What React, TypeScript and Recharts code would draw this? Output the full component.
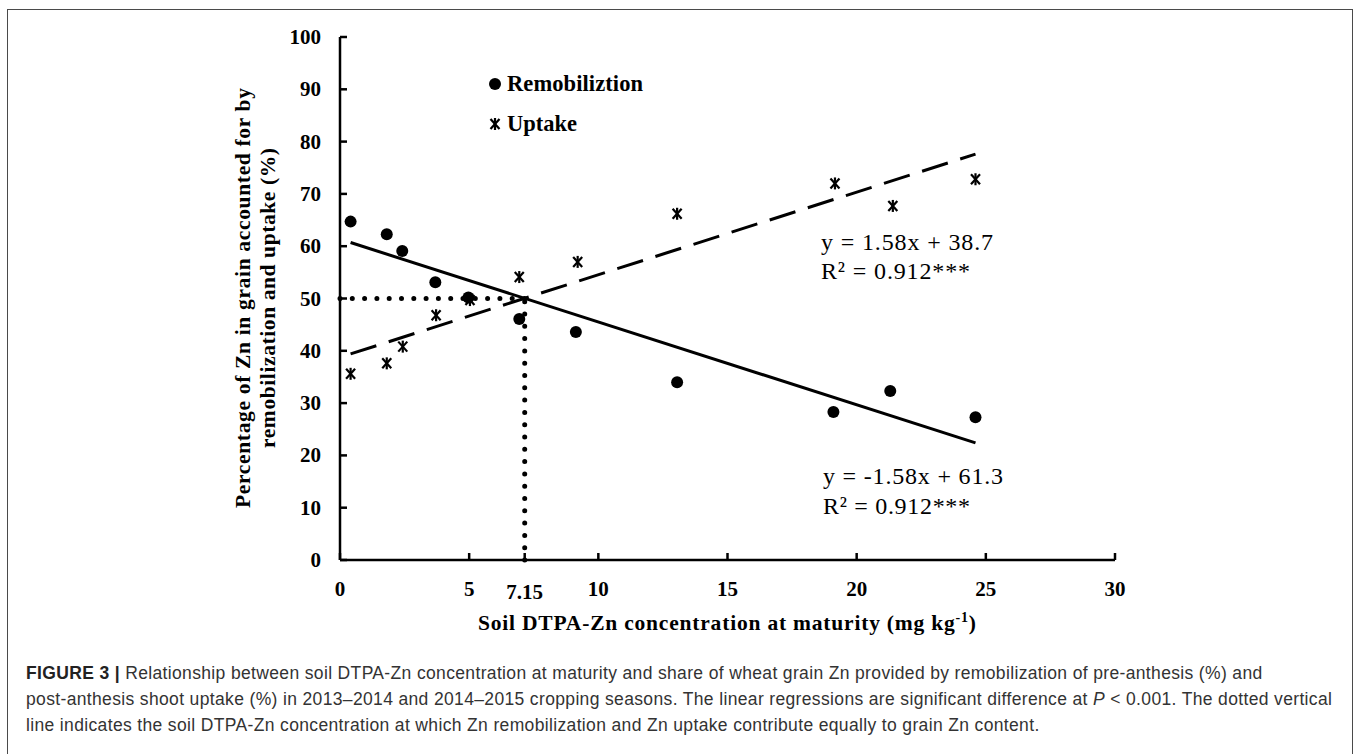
import React from "react";
import { ScatterChart, Scatter, XAxis, YAxis, ReferenceLine, Customized } from "recharts";

// soil DTPA-Zn (mg/kg) and share of grain Zn (%)
const remobX = [0.41, 1.81, 2.41, 3.69, 4.97, 6.94, 9.13, 13.05, 19.1, 21.3, 24.6];
const remobY = [64.7, 62.3, 59.1, 53.1, 50.2, 46.1, 43.6, 34.0, 28.3, 32.3, 27.3];
const uptakeX = [0.41, 1.81, 2.43, 3.72, 5.03, 6.94, 9.2, 13.05, 19.16, 21.4, 24.6];
const uptakeY = [35.6, 37.6, 40.8, 46.8, 49.7, 54.1, 57.0, 66.2, 72.0, 67.7, 72.8];

// regression line ends
const remobFitX = [0.41, 24.6];
const remobFitY = [60.7, 22.4];
const uptakeFitX = [0.41, 24.6];
const uptakeFitY = [39.4, 77.6];

// point where both contribute equally
const crossX = 7.15;
const crossY = 50;

const xTicks = [0, 5, 7.15, 10, 15, 20, 25, 30];
const yTicks = [0, 10, 20, 30, 40, 50, 60, 70, 80, 90, 100];

const remobData = remobX.map((x, i) => ({ x, y: remobY[i] }));
const uptakeData = uptakeX.map((x, i) => ({ x, y: uptakeY[i] }));

const serif = "'Liberation Serif', 'Times New Roman', serif";

const Dot = (p: any) => <circle cx={p.cx} cy={p.cy} r={6} fill="#000" />;

const Star = (p: any) => {
  const { cx, cy } = p;
  return (
    <g stroke="#000" strokeWidth={2.2}>
      <line x1={cx} y1={cy - 6} x2={cx} y2={cy + 6} />
      <line x1={cx - 4.5} y1={cy - 5} x2={cx + 4.5} y2={cy + 5} />
      <line x1={cx + 4.5} y1={cy - 5} x2={cx - 4.5} y2={cy + 5} />
    </g>
  );
};

const XTick = (p: any) => {
  const v = p.payload.value;
  return (
    <text x={p.x} y={p.y} dy={v === 7.15 ? 38.5 : 36} textAnchor="middle"
      fontFamily={serif} fontWeight="bold" fontSize={21} fill="#000">
      {v}
    </text>
  );
};

const YTick = (p: any) => (
  <text x={p.x - 19} y={p.y} dy={7} textAnchor="end"
    fontFamily={serif} fontWeight="bold" fontSize={21} fill="#000">
    {p.payload.value}
  </text>
);

const Overlay = () => (
  <g fontFamily={serif} fill="#000">
    {/* legend */}
    <Dot cx={495} cy={84} />
    <text x={507} y={91} fontSize={22.5} fontWeight="bold" textLength={136} lengthAdjust="spacing">Remobiliztion</text>
    <Star cx={495} cy={124} />
    <text x={507} y={131} fontSize={22.5} fontWeight="bold">Uptake</text>

    {/* equations */}
    <text x={821} y={250} fontSize={24} textLength={172} lengthAdjust="spacing">y = 1.58x + 38.7</text>
    <text x={821} y={279} fontSize={24} textLength={149} lengthAdjust="spacing">R² = 0.912***</text>
    <text x={823} y={484} fontSize={24} textLength={180} lengthAdjust="spacing">y = -1.58x + 61.3</text>
    <text x={823} y={514} fontSize={24} textLength={147} lengthAdjust="spacing">R² = 0.912***</text>

    {/* axis titles */}
    <text x={478} y={630} fontSize={21.5} fontWeight="bold" textLength={498} lengthAdjust="spacing">
      Soil DTPA-Zn concentration at maturity (mg kg
      <tspan fontSize={14} dy={-8}>-1</tspan>
      <tspan dy={8}>)</tspan>
    </text>
    <g transform="translate(250,508) rotate(-90)">
      <text x={0} y={0} fontSize={21.5} fontWeight="bold" textLength={420} lengthAdjust="spacing">
        Percentage of Zn in grain accounted for by
      </text>
    </g>
    <g transform="translate(275,448) rotate(-90)">
      <text x={0} y={0} fontSize={21.5} fontWeight="bold" textLength={300} lengthAdjust="spacing">
        remobilization and uptake (%)
      </text>
    </g>
  </g>
);

export default function App() {
  return (
    <div style={{ position: "absolute", left: 0, top: 0, width: 1358, height: 754, overflow: "hidden", background: "#fff" }}>
      <div style={{ position: "absolute", left: 7, top: 9, width: 1346, height: 800, border: "1.5px solid #4a4a4a", boxSizing: "border-box" }} />
      <div style={{ position: "absolute", left: 0, top: 0 }}>
        <ScatterChart width={1358} height={660} margin={{ top: 37, right: 243, bottom: 40, left: 280 }}>
          <XAxis type="number" dataKey="x" domain={[0, 30]} ticks={xTicks} interval={0}
            tick={<XTick />} tickSize={-7} tickMargin={7}
            axisLine={{ stroke: "#000", strokeWidth: 2.5 }} tickLine={{ stroke: "#000", strokeWidth: 2.5 }}
            height={60} />
          <YAxis type="number" dataKey="y" domain={[0, 100]} ticks={yTicks} interval={0}
            tick={<YTick />} tickSize={-7} tickMargin={7}
            axisLine={{ stroke: "#000", strokeWidth: 2.5 }} tickLine={{ stroke: "#000", strokeWidth: 2.5 }}
            width={60} />
          <ReferenceLine segment={[{ x: 0, y: crossY }, { x: crossX, y: crossY }]}
            stroke="#000" strokeWidth={5} strokeDasharray="0 12.3" strokeLinecap="round" />
          <ReferenceLine segment={[{ x: crossX, y: 0 }, { x: crossX, y: crossY }]}
            stroke="#000" strokeWidth={5} strokeDasharray="0 12.3" strokeLinecap="round" />
          <ReferenceLine segment={[{ x: remobFitX[0], y: remobFitY[0] }, { x: remobFitX[1], y: remobFitY[1] }]}
            stroke="#000" strokeWidth={3} />
          <ReferenceLine segment={[{ x: uptakeFitX[0], y: uptakeFitY[0] }, { x: uptakeFitX[1], y: uptakeFitY[1] }]}
            stroke="#000" strokeWidth={3} strokeDasharray="27 13" />
          <Scatter data={remobData} shape={Dot} isAnimationActive={false} />
          <Scatter data={uptakeData} shape={Star} isAnimationActive={false} />
          <Customized component={Overlay} />
        </ScatterChart>
      </div>
      <div style={{ position: "absolute", left: 26, top: 660, fontFamily: "'Liberation Sans', Arial, sans-serif", fontSize: 17.5, letterSpacing: "0.35px", lineHeight: "26px", color: "#333", whiteSpace: "nowrap" }}>
        <div><b style={{ color: "#222" }}>FIGURE 3 |</b> Relationship between soil DTPA-Zn concentration at maturity and share of wheat grain Zn provided by remobilization of pre-anthesis (%) and</div>
        <div>post-anthesis shoot uptake (%) in 2013–2014 and 2014–2015 cropping seasons. The linear regressions are significant difference at <i>P</i> &lt; 0.001. The dotted vertical</div>
        <div>line indicates the soil DTPA-Zn concentration at which Zn remobilization and Zn uptake contribute equally to grain Zn content.</div>
      </div>
    </div>
  );
}
